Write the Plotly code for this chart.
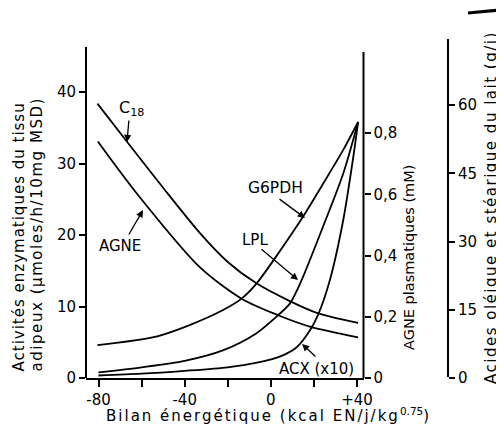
import plotly.graph_objects as go

# ---------------- data ----------------
# x : energy balance (kcal EN/j/kg^0.75)
g6pdh_x = [-80.5, -53.2, -37.7, -22.2, -13.6, -6.7, 15.0, 24.3, 33.6, 40.5]
g6pdh_y = [4.6, 5.8, 7.4, 9.5, 11.1, 13.2, 22.6, 27.2, 31.9, 35.8]

lpl_x = [-80, -60, -40, -22, -7, 3.4, 8.8, 14, 24, 33.6, 40.5]
lpl_y = [0.8, 1.5, 2.4, 3.9, 6.2, 8.8, 10.4, 13.5, 21.0, 28.6, 35.8]

acx_x = [-80, -60, -40, -20, -7, 5, 12, 18, 22, 27.4, 33.6, 38.3, 40.5]
acx_y = [0.35, 0.6, 1.0, 1.5, 2.1, 3.1, 4.3, 6.6, 8.9, 13.7, 22.1, 31.0, 35.8]

# plasma NEFA (mM)
agne_x = [-80.3, -62.5, -33.0, -13.6, 3.4, 18.1, 40.5]
agne_y = [0.772, 0.605, 0.362, 0.259, 0.205, 0.168, 0.133]

# milk oleic + stearic acids (g/j)
c18_x = [-80.5, -66.4, -50, -33.0, -20, -6.7, 8.8, 22.0, 40.5]
c18_y = [60.3, 51.7, 41.8, 31.9, 25.5, 20.8, 16.9, 14.2, 12.1]

x_tickvals = [-80, -60, -40, -20, 0, 20, 40]
x_ticktext = ["-80", "", "-40", "", "0", "", "+40"]
y1_ticks = [0, 10, 20, 30, 40]
y2_tickvals = [0, 0.2, 0.4, 0.6, 0.8]
y2_ticktext = ["0", "0,2", "0,4", "0,6", "0,8"]
y3_ticks = [0, 15, 30, 45, 60]

# ---------------- layout geometry ----------------
# page body has an 8px margin, so figure coords = reference coords - 8
OFF = 8
W, H = 504, 430
ML = 86 - OFF
MT = 38 - OFF
MB = H - (378 - OFF)
MR = W - (448 - OFF)
PW, PH = W - ML - MR, H - MT - MB
XDOM = (363.5 - 86) / PW


def px(xp):  # reference pixel x -> paper
    return (xp - 86) / PW


def py(yp):  # reference pixel y -> paper
    return (378 - yp) / PH


FONT = "DejaVu Sans"
LW = 1.8
line = dict(color="black", width=LW)


def sp(t, ls):
    return '<span style="letter-spacing:%spx">%s</span>' % (ls, t)


fig = go.Figure()
for xs, ys, ax, nm in [(g6pdh_x, g6pdh_y, "y", "G6PDH"), (lpl_x, lpl_y, "y", "LPL"),
                       (acx_x, acx_y, "y", "ACX"), (agne_x, agne_y, "y2", "AGNE"),
                       (c18_x, c18_y, "y3", "C18")]:
    fig.add_trace(go.Scatter(x=xs, y=ys, mode="lines", yaxis=ax, name=nm,
                             line=dict(**line, shape="spline", smoothing=0.8)))

tickfont = dict(family=FONT, size=15, color="black")
common = dict(showgrid=False, zeroline=False, showline=False, ticks="outside",
              ticklen=6, tickwidth=2, tickcolor="black", tickfont=tickfont)

fig.update_layout(
    width=W, height=H,
    margin=dict(l=ML, r=MR, t=MT, b=MB, pad=0),
    paper_bgcolor="white", plot_bgcolor="white",
    showlegend=False,
    font=dict(family=FONT, size=15, color="black"),
    xaxis=dict(domain=[0, XDOM], range=[-85.8, 43.0], showgrid=False, zeroline=False,
               showline=True, linecolor="black", linewidth=2,
               ticks="outside", ticklen=7, tickwidth=2, tickcolor="black",
               tickvals=x_tickvals, ticktext=x_ticktext, tickfont=tickfont),
    yaxis=dict(range=[0, PH / 7.15], tickvals=y1_ticks, **common),
    yaxis2=dict(range=[0, PH / 306.25], overlaying="y", side="right", anchor="x",
                tickvals=y2_tickvals, ticktext=y2_ticktext, **common),
    yaxis3=dict(range=[0, PH / 4.55], overlaying="y", side="right", anchor="free", position=1,
                tickvals=y3_ticks, **common),
)

shapes = [
    dict(type="line", xref="paper", yref="paper", x0=0, x1=0, y0=0, y1=py(47), line=dict(color="black", width=2)),
    dict(type="line", xref="paper", yref="paper", x0=XDOM, x1=XDOM, y0=0, y1=py(52), line=dict(color="black", width=2)),
    dict(type="line", xref="paper", yref="paper", x0=1, x1=1, y0=py(377), y1=py(39), line=dict(color="black", width=2)),
    dict(type="line", xref="paper", yref="paper", x0=px(468), x1=px(500), y0=py(13), y1=py(10), line=dict(color="black", width=3)),
]
fig.update_layout(shapes=shapes)

ann = []


def rot(t, x, y, size, yanchor="middle"):
    ann.append(dict(text=t, xref="paper", yref="paper", x=px(x), y=py(y), xanchor="center", yanchor=yanchor,
                    textangle=-90, showarrow=False, font=dict(family=FONT, size=size)))


rot(sp("Activités enzymatiques du tissu", 1.0), 18, 374, 15, "bottom")
rot(sp("adipeux (µmoles/h/10mg MSD)", 1.55), 36, 374, 15, "bottom")
rot("AGNE plasmatiques (mM)", 409, 258, 14.5)
rot(sp("Acides oléique et stéarique du lait (g/j)", 1.5), 491, 208, 15)

ann.append(dict(text=sp("Bilan énergétique (kcal EN/j/kg", 2) + "<sup>0.75</sup>)", xref="paper", yref="paper",
                x=px(267), y=py(415), xanchor="center", yanchor="middle", showarrow=False,
                font=dict(family=FONT, size=15)))


def lab(t, x, y, size=15):
    ann.append(dict(text=t, xref="paper", yref="paper", x=px(x), y=py(y), xanchor="center", yanchor="middle",
                    showarrow=False, font=dict(family=FONT, size=size)))


lab("C<sub>18</sub>", 131, 108, 16)
lab("AGNE", 120, 246)
lab("G6PDH", 275, 188, 15.5)
lab("LPL", 255, 240)
lab("ACX (x10)", 316, 369)


def arr(tx, ty, hx, hy):
    ann.append(dict(text="", xref="paper", yref="paper", x=px(hx), y=py(hy), ax=tx - hx, ay=ty - hy,
                    showarrow=True, arrowhead=2, arrowsize=1.1, arrowwidth=1.3, arrowcolor="black"))


arr(129, 119, 127, 142)
arr(128, 236, 143, 210)
arr(278, 198, 305, 218)
arr(260, 248, 298, 280)
arr(317, 358, 302, 344)

fig.update_layout(annotations=ann)
fig.write_html("out.html")
